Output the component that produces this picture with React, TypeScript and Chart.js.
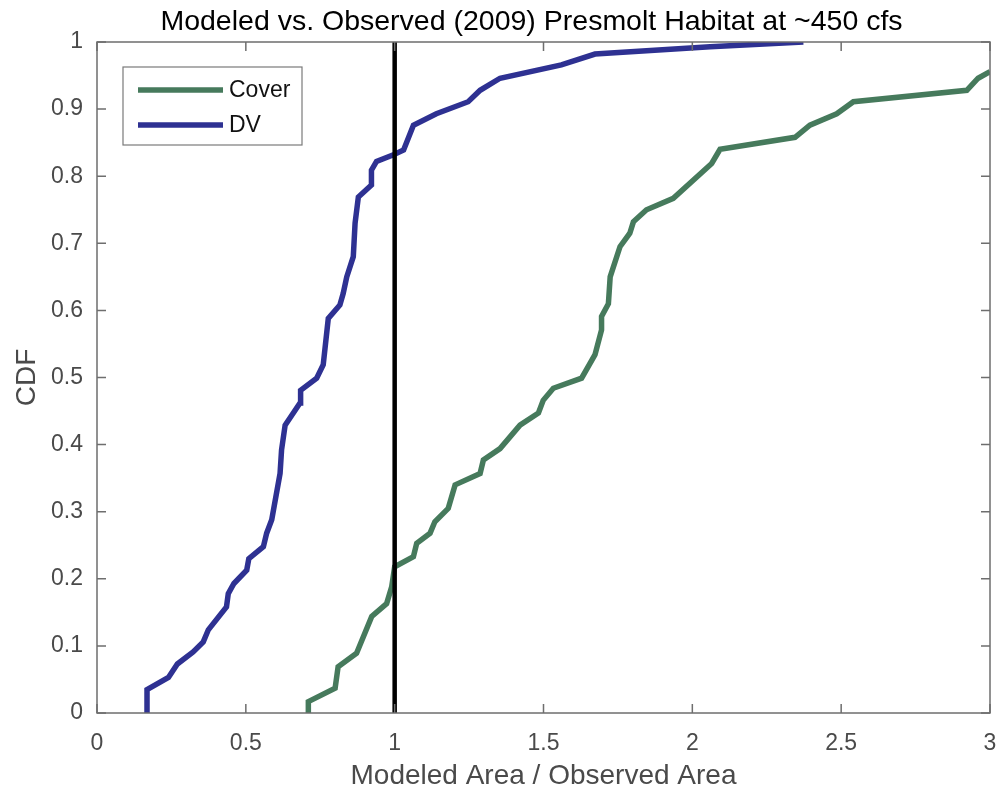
import React, { useEffect, useRef } from "react";
import { Chart, registerables } from "chart.js";

Chart.register(...registerables);

// Empirical CDF of modeled / observed habitat area, DV model
const dvRatio = [
  0.168, 0.168, 0.24, 0.27, 0.323, 0.357, 0.374, 0.435, 0.441, 0.46, 0.503,
  0.51, 0.559, 0.57, 0.587, 0.615, 0.62, 0.632, 0.682, 0.684, 0.738, 0.76,
  0.777, 0.816, 0.827, 0.839, 0.861, 0.867, 0.878, 0.922, 0.922, 0.939, 0.996,
  1.03, 1.063, 1.14, 1.247, 1.287, 1.354, 1.56, 1.673, 2.06, 2.373,
];
const dvCdf = [
  0, 0.035, 0.053, 0.073, 0.091, 0.106, 0.124, 0.158, 0.178, 0.193, 0.213,
  0.23, 0.248, 0.268, 0.288, 0.357, 0.392, 0.429, 0.462, 0.481, 0.499, 0.519,
  0.588, 0.608, 0.625, 0.65, 0.68, 0.73, 0.769, 0.787, 0.809, 0.822, 0.832,
  0.839, 0.876, 0.893, 0.911, 0.928, 0.946, 0.966, 0.982, 0.993, 1.0,
];

// Empirical CDF of modeled / observed habitat area, Cover model
const coverRatio = [
  0.71, 0.71, 0.8, 0.81, 0.872, 0.923, 0.973, 0.99, 1.0, 1.063, 1.074, 1.119,
  1.135, 1.18, 1.203, 1.287, 1.298, 1.354, 1.421, 1.483, 1.499, 1.533, 1.628,
  1.673, 1.695, 1.695, 1.718, 1.724, 1.757, 1.79, 1.802, 1.846, 1.936, 2.065,
  2.093, 2.345, 2.395, 2.485, 2.541, 2.922, 2.96, 3.0,
];
const coverCdf = [
  0, 0.017, 0.037, 0.069, 0.089, 0.144, 0.163, 0.188, 0.218, 0.233, 0.253,
  0.268, 0.285, 0.305, 0.34, 0.357, 0.377, 0.394, 0.429, 0.447, 0.466, 0.484,
  0.499, 0.534, 0.571, 0.591, 0.61, 0.65, 0.695, 0.715, 0.732, 0.75, 0.767,
  0.819, 0.84, 0.858, 0.876, 0.893, 0.911, 0.928, 0.946, 0.956,
];

// Reference ratio: modeled area equals observed area
const parityRatio = [1, 1];
const parityCdf = [0, 1];

const xTicks = [0, 0.5, 1, 1.5, 2, 2.5, 3];
const xTickLabels = ["0", "0.5", "1", "1.5", "2", "2.5", "3"];
const yTicks = [0, 0.1, 0.2, 0.3, 0.4, 0.5, 0.6, 0.7, 0.8, 0.9, 1];
const yTickLabels = ["0", "0.1", "0.2", "0.3", "0.4", "0.5", "0.6", "0.7", "0.8", "0.9", "1"];

const titleText = "Modeled vs. Observed (2009) Presmolt Habitat at ~450 cfs";
const xTitleText = "Modeled Area / Observed Area";
const yTitleText = "CDF";

const FONT = '"Liberation Sans", Arial, Helvetica, sans-serif';
const COVER_COLOR = "#467a5c";
const DV_COLOR = "#2e3192";
const AXIS_COLOR = "#6e6e6e";
const LABEL_COLOR = "#4a4a4a";

const toPoints = (xs: number[], ys: number[]) => xs.map((x, i) => ({ x, y: ys[i] }));

// Box, inward tick marks, title, axis titles and the inset legend
const decorations = {
  id: "decorations",
  afterDatasetsDraw(chart: any) {
    const { ctx, chartArea } = chart;
    const { left, right, top, bottom } = chartArea;
    const xs = chart.scales.x;
    const ys = chart.scales.y;
    const tickLen = 9;
    ctx.save();
    ctx.strokeStyle = AXIS_COLOR;
    ctx.lineWidth = 1.5;
    ctx.strokeRect(left, top, right - left, bottom - top);
    ctx.beginPath();
    xTicks.forEach((v) => {
      const px = xs.getPixelForValue(v);
      ctx.moveTo(px, bottom);
      ctx.lineTo(px, bottom - tickLen);
      ctx.moveTo(px, top);
      ctx.lineTo(px, top + tickLen);
    });
    yTicks.forEach((v) => {
      const py = ys.getPixelForValue(v);
      ctx.moveTo(left, py);
      ctx.lineTo(left + tickLen, py);
      ctx.moveTo(right, py);
      ctx.lineTo(right - tickLen, py);
    });
    ctx.stroke();

    // legend
    const lx = 123, ly = 67, lw = 179, lh = 78;
    ctx.fillStyle = "#ffffff";
    ctx.fillRect(lx, ly, lw, lh);
    ctx.strokeStyle = "#7a7a7a";
    ctx.lineWidth = 1.2;
    ctx.strokeRect(lx, ly, lw, lh);
    const entries = chart.data.datasets.filter((d: any) => d.label);
    entries.forEach((d: any, i: number) => {
      const y = 90 + i * 35;
      ctx.strokeStyle = d.borderColor;
      ctx.lineWidth = 5.5;
      ctx.beginPath();
      ctx.moveTo(138, y);
      ctx.lineTo(223, y);
      ctx.stroke();
      ctx.fillStyle = "#111111";
      ctx.font = `23px ${FONT}`;
      ctx.textAlign = "left";
      ctx.textBaseline = "middle";
      ctx.fillText(d.label, 229, y + 1);
    });
    ctx.restore();
  },
  afterDraw(chart: any) {
    const { ctx, chartArea } = chart;
    const cx = (chartArea.left + chartArea.right) / 2;
    const cy = (chartArea.top + chartArea.bottom) / 2;
    ctx.save();
    ctx.textAlign = "center";
    ctx.textBaseline = "middle";
    ctx.fillStyle = "#000000";
    ctx.font = `28.5px ${FONT}`;
    ctx.fillText(titleText, cx - 12, 22);
    ctx.fillStyle = LABEL_COLOR;
    ctx.font = `28px ${FONT}`;
    ctx.fillText(xTitleText, cx, 776);
    ctx.translate(27, cy);
    ctx.rotate(-Math.PI / 2);
    ctx.fillText(yTitleText, 0, 0);
    ctx.restore();
  },
};

export default function App() {
  const canvasRef = useRef<HTMLCanvasElement | null>(null);

  useEffect(() => {
    const canvas = canvasRef.current;
    if (!canvas) return;
    const chart = new Chart(canvas, {
      type: "line",
      data: {
        datasets: [
          {
            label: "",
            data: toPoints(parityRatio, parityCdf),
            borderColor: "#000000",
            borderWidth: 4.5,
            pointRadius: 0,
            tension: 0,
          },
          {
            label: "Cover",
            data: toPoints(coverRatio, coverCdf),
            borderColor: COVER_COLOR,
            borderWidth: 5.5,
            pointRadius: 0,
            tension: 0,
          },
          {
            label: "DV",
            data: toPoints(dvRatio, dvCdf),
            borderColor: DV_COLOR,
            borderWidth: 5.5,
            pointRadius: 0,
            tension: 0,
          },
        ],
      },
      options: {
        responsive: false,
        animation: false,
        parsing: false as any,
        layout: { padding: { left: 0, right: 9, top: 42, bottom: 0 } },
        plugins: {
          legend: { display: false },
          title: { display: false },
          tooltip: { enabled: false },
        },
        scales: {
          x: {
            type: "linear",
            min: 0,
            max: 3,
            afterBuildTicks: (s: any) => {
              s.ticks = xTicks.map((value) => ({ value }));
            },
            afterFit: (s: any) => {
              s.height = 84;
              s.paddingLeft = 0;
              s.paddingRight = 0;
            },
            grid: { display: false, drawTicks: false },
            border: { display: false },
            ticks: {
              autoSkip: false,
              maxRotation: 0,
              padding: 17,
              color: LABEL_COLOR,
              font: { family: FONT, size: 23 },
              callback: (_v: any, i: number) => xTickLabels[i],
            },
          },
          y: {
            type: "linear",
            min: 0,
            max: 1,
            afterBuildTicks: (s: any) => {
              s.ticks = yTicks.map((value) => ({ value }));
            },
            afterFit: (s: any) => {
              s.width = 97;
              s.paddingTop = 0;
              s.paddingBottom = 0;
            },
            grid: { display: false, drawTicks: false },
            border: { display: false },
            ticks: {
              autoSkip: false,
              padding: 14,
              color: LABEL_COLOR,
              font: { family: FONT, size: 23 },
              callback: (_v: any, i: number) => yTickLabels[i],
            },
          },
        },
      },
      plugins: [decorations],
    });
    return () => chart.destroy();
  }, []);

  return (
    <div style={{ position: "absolute", left: 0, top: 0, width: 999, height: 797, background: "#ffffff" }}>
      <canvas ref={canvasRef} width={999} height={797} style={{ display: "block" }} />
    </div>
  );
}
